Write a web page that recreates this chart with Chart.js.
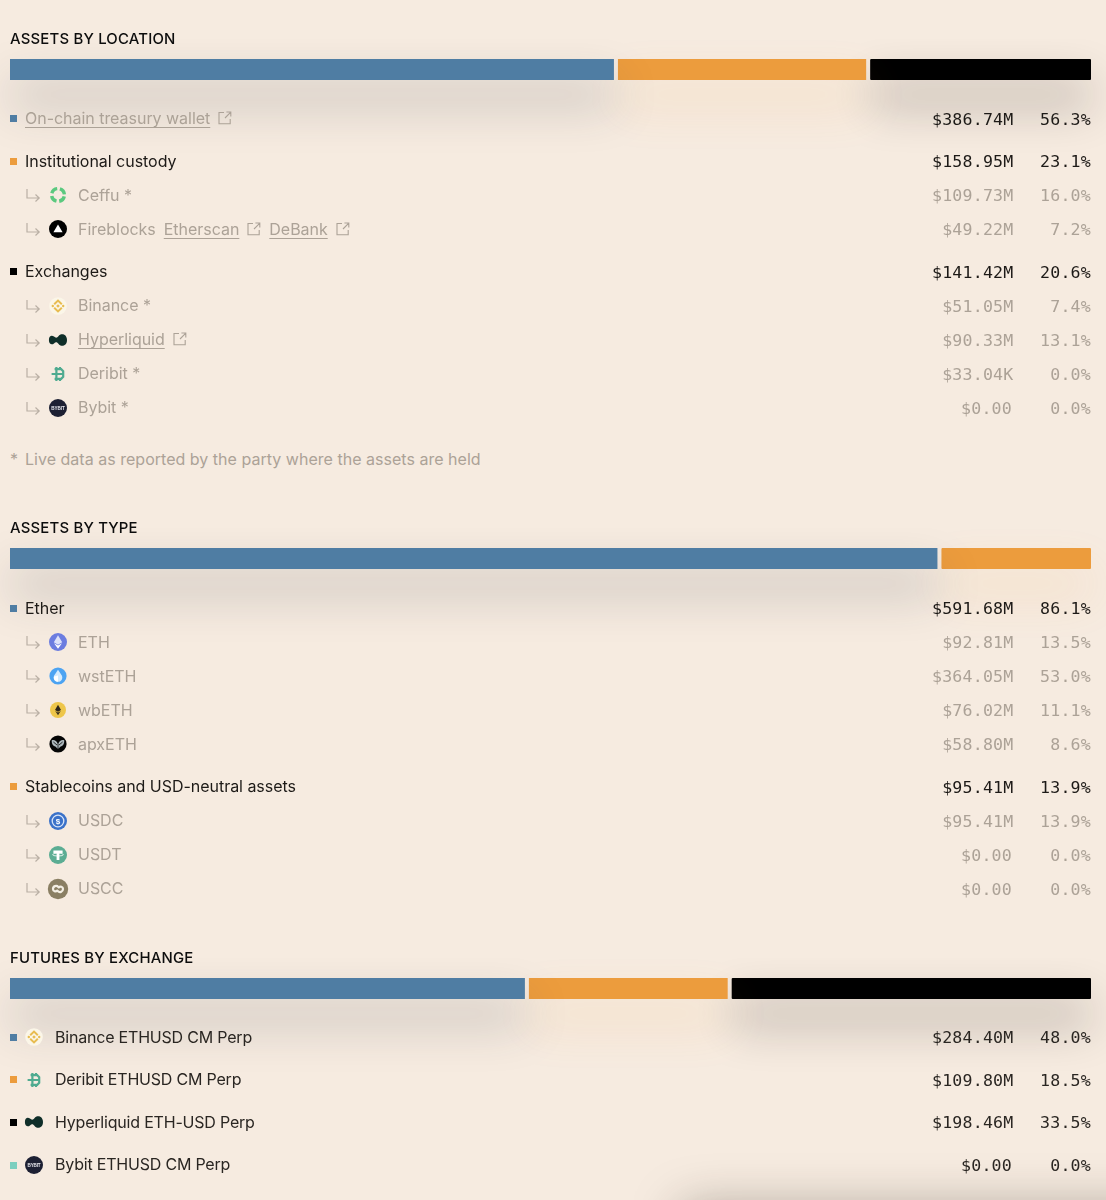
<!DOCTYPE html>
<html><head><meta charset="utf-8">
<script src="https://cdn.jsdelivr.net/npm/chart.js@4"></script>
<style>
html,body{margin:0;padding:0;background:#F6EBE0;}
body{width:1106px;height:1200px;position:relative;overflow:hidden;font-family:Inter,sans-serif;}
.bgshadow{position:absolute;left:690px;top:1216px;width:500px;height:40px;box-shadow:0 0 50px 8px rgba(40,30,20,.36);}
canvas{position:absolute;left:0;}
.chartbox{position:absolute;left:0;width:1106px;height:170px;}
.sec{position:absolute;left:0;width:1106px;z-index:2;}
.title{position:absolute;left:10px;font-size:14.9px;font-weight:500;color:#0d0d0d;line-height:20px;z-index:2;letter-spacing:.2px;white-space:nowrap;}
.row{position:relative;height:34px;line-height:34px;font-size:16px;letter-spacing:-.03px;white-space:nowrap;}
.row.top{margin-top:8.5px;color:#1d1a17;}
.row.sub{color:#aca297;}
.row.fut{height:42.6px;line-height:42.6px;color:#2a2622;letter-spacing:-.2px;}
.row.link{color:#aca297;}
.sq{position:absolute;left:10px;top:50%;margin-top:-3.5px;width:7px;height:7px;}
.lab{position:absolute;left:25px;top:-.5px;}
.sub .lab{left:78px;}
.fut .lab{left:55px;}
.arrow{position:absolute;left:26px;top:50%;margin-top:-8px;}
.ic{position:absolute;left:48px;top:50%;margin-top:-10px;}
.fut .ic{left:24px;}
.amt,.pct{position:absolute;top:1px;font-family:"DejaVu Sans Mono",monospace;font-size:16.6px;letter-spacing:.2px;text-align:right;}
.amt{right:92.5px;}
.amt.plain{right:94px;}
.pct{right:15px;}
u{text-underline-offset:3px;text-decoration-thickness:1px;}
.ext{display:inline-block;vertical-align:-1px;margin:0 0 0 8px;}
.note{position:absolute;left:10px;top:449px;font-size:16px;line-height:20px;color:#aca297;z-index:2;white-space:nowrap;letter-spacing:.02px;}
.note span{position:absolute;left:15px;top:0;}
</style></head>
<body>
<div class="bgshadow"></div>
<script>
// ---------- data ----------
const locationSegments = ["On-chain treasury wallet", "Institutional custody", "Exchanges"];
const locationValues = [386.74, 158.95, 141.42];
const typeSegments = ["Ether", "Stablecoins and USD-neutral assets"];
const typeValues = [591.68, 95.41];
const futuresSegments = ["Binance ETHUSD CM Perp", "Deribit ETHUSD CM Perp", "Hyperliquid ETH-USD Perp", "Bybit ETHUSD CM Perp"];
const futuresValues = [284.40, 109.80, 198.46, 0];

const locationNames = ["On-chain treasury wallet", "Institutional custody", "Ceffu *", "Fireblocks", "Exchanges", "Binance *", "Hyperliquid", "Deribit *", "Bybit *"];
const locationAmounts = ["$386.74M", "$158.95M", "$109.73M", "$49.22M", "$141.42M", "$51.05M", "$90.33M", "$33.04K", "$0.00"];
const locationShares = ["56.3%", "23.1%", "16.0%", "7.2%", "20.6%", "7.4%", "13.1%", "0.0%", "0.0%"];

const typeNames = ["Ether", "ETH", "wstETH", "wbETH", "apxETH", "Stablecoins and USD-neutral assets", "USDC", "USDT", "USCC"];
const typeAmounts = ["$591.68M", "$92.81M", "$364.05M", "$76.02M", "$58.80M", "$95.41M", "$95.41M", "$0.00", "$0.00"];
const typeShares = ["86.1%", "13.5%", "53.0%", "11.1%", "8.6%", "13.9%", "13.9%", "0.0%", "0.0%"];

const futuresAmounts = ["$284.40M", "$109.80M", "$198.46M", "$0.00"];
const futuresShares = ["48.0%", "18.5%", "33.5%", "0.0%"];

const sectionTitles = ["ASSETS BY LOCATION", "ASSETS BY TYPE", "FUTURES BY EXCHANGE"];
const footnoteMark = "*";
const footnote = "Live data as reported by the party where the assets are held";

// ---------- styles ----------
const BLUE = "#4F7DA3", ORANGE = "#EC9C3D", BLACK = "#000000", TEAL = "#7CCFBF";
const COLORS = [BLUE, ORANGE, BLACK, TEAL];
const SHADOWS = ["rgba(45,55,65,.26)", "rgba(236,156,61,.17)", "rgba(25,20,15,.3)", "rgba(0,0,0,0)"];

const shadowPlugin = {
  id: "softShadow",
  beforeDatasetDraw(chart, args) {
    const ds = chart.data.datasets[args.index], ctx = chart.ctx;
    ctx.save();
    if (ds.softShadow) { ctx.shadowColor = ds.softShadow; ctx.shadowBlur = 46; ctx.shadowOffsetY = 25; }
  },
  afterDatasetDraw(chart) { chart.ctx.restore(); }
};

function makeBar(top, labels, values) {
  const box = document.createElement("div");
  box.className = "chartbox";
  box.style.top = top + "px";
  const cv = document.createElement("canvas");
  box.appendChild(cv);
  document.body.appendChild(box);
  const total = values.reduce((a, b) => a + b, 0);
  const shown = values.map((v, i) => ({ v, i })).filter(o => o.v > 0);
  const widthPx = 1081, gapPx = 4;
  const gapVal = gapPx * total / (widthPx - gapPx * (shown.length - 1));
  const datasets = [];
  shown.forEach((o, k) => {
    datasets.push({ label: labels[o.i], data: [o.v], backgroundColor: COLORS[o.i], softShadow: SHADOWS[o.i], clip: false, inflateAmount: 0, borderWidth: 0, borderRadius: 1, borderSkipped: false, stack: "s", barPercentage: 1, categoryPercentage: 1 });
    if (k < shown.length - 1) datasets.push({ label: "gap", data: [gapVal], backgroundColor: "rgba(0,0,0,0)", inflateAmount: 0, borderWidth: 0, stack: "s", barPercentage: 1, categoryPercentage: 1 });
  });
  new Chart(cv, {
    type: "bar",
    data: { labels: ["share"], datasets },
    plugins: [shadowPlugin],
    options: {
      indexAxis: "y", responsive: true, maintainAspectRatio: false, animation: false,
      layout: { padding: { left: 10, right: 15, top: 20, bottom: 129 } },
      plugins: { legend: { display: false }, tooltip: { enabled: false } },
      scales: {
        x: { display: false, stacked: true, min: 0, max: total + gapVal * (shown.length - 1) },
        y: { display: false, stacked: true }
      }
    }
  });
}

// ---------- small glyphs ----------
const arrowSvg = '<svg class="arrow" width="15" height="16" viewBox="0 0 15 16" fill="none" stroke="#b9afa4" stroke-width="1.2"><path d="M1 2v9h12M9.5 7.5 13.2 11 9.5 14.5"/></svg>';
const extSvg = '<svg class="ext" width="14" height="14" viewBox="0 0 14 14" fill="none" stroke="#aca297" stroke-width="1.1"><path d="M6 1.5H1v11.2h11.2V8M7 7 12.8 1.2M8.4 1h4.4v4.4"/></svg>';
function ic(body) { return '<svg class="ic" width="20" height="20" viewBox="0 0 20 20" style="overflow:visible">' + body + "</svg>"; }
const ICONS = {
  ceffu: ic('<circle cx="10" cy="10" r="6.4" fill="none" stroke="#5BC97F" stroke-width="3.4" stroke-dasharray="7.2 2.8" transform="rotate(12 10 10)"/>'),
  fireblocks: ic('<circle cx="10" cy="10" r="9" fill="#000"/><path d="M10 5.6 14.6 13.2H5.4Z" fill="#fff"/>'),
  binance: ic('<circle cx="10" cy="10" r="8.8" fill="#FBF6E8"/><g fill="none" stroke="#E8BC50" stroke-width="2"><path d="M6.2 8.2 10 4.6 13.8 8.2"/><path d="M6.2 11.8 10 15.4 13.8 11.8"/></g><path d="M10 8.2 11.8 10 10 11.8 8.2 10Z" fill="#E8BC50"/><circle cx="4.8" cy="10" r="1.2" fill="#E8BC50"/><circle cx="15.2" cy="10" r="1.2" fill="#E8BC50"/>'),
  hyper: ic('<path d="M.9 10C.9 5.5 4 4.8 6 6.6 7.6 8 9 8.2 10.6 6 12.4 3 19 3.4 19 10 19 16.6 12.4 17 10.6 14 9 11.8 7.6 12 6 13.4 4 15.2.9 14.5.9 10Z" fill="#0F2E29"/>'),
  deribit: ic('<g fill="none" stroke="#4FAB90" stroke-width="2.2"><path d="M6.6 5.2H13.2L15.2 7.2V12.8L13.2 14.8H6.6"/><path d="M3.6 10H15M8.4 3V17M12 3V6M12 14V17"/></g>'),
  bybit: ic('<circle cx="10" cy="10" r="9" fill="#1D2033"/><text x="10" y="11.7" text-anchor="middle" font-family="Liberation Sans" font-weight="700" font-size="4.6" fill="#E8E8EE">BYBIT</text>'),
  eth: ic('<circle cx="10" cy="10" r="9" fill="#6C7DE0"/><path d="M10 3.2 14.2 10.2 10 12.7 5.8 10.2Z" fill="#DDE2FA"/><path d="M10 13.6 14 11.2 10 16.8 6 11.2Z" fill="#fff"/>'),
  wsteth: ic('<circle cx="10" cy="10" r="8.6" fill="#4CA3F2"/><path d="M10 3.8 13.8 9.4C15.4 13 12.8 15.8 10 15.8 7.2 15.8 4.6 13 6.2 9.4Z" fill="#D5EBFD"/><path d="M10 9.6V15.8C7.2 15.8 5.2 13.4 6 10.6Z" fill="#fff"/>'),
  wbeth: ic('<circle cx="10" cy="10" r="8" fill="#EEC64A"/><path d="M10 4.8 13 10 10 11.8 7 10Z" fill="#2b2418"/><path d="M10 12.6 12.8 10.9 10 15.2 7.2 10.9Z" fill="#3b3220"/>'),
  apxeth: ic('<circle cx="10" cy="10" r="8.6" fill="#050505"/><path d="M3.8 6.2C6 5.4 8.8 6.6 9.6 9.4H10.4C11.2 6.6 14 5.4 16.2 6.2 16.6 9.4 15 12 12.6 12.4L10 15 7.4 12.4C5 12 3.4 9.4 3.8 6.2Z" fill="#AEB9BE"/><path d="M10 9.4V15M5.4 8 9 11M14.6 8 11 11" stroke="#050505" stroke-width=".8"/>'),
  usdc: ic('<circle cx="10" cy="10" r="9" fill="#3B72C9"/><circle cx="10" cy="10" r="5.8" fill="none" stroke="#D9E5F8" stroke-width="1.3"/><text x="10" y="13" text-anchor="middle" font-family="Liberation Sans" font-weight="700" font-size="8" fill="#fff">$</text>'),
  usdt: ic('<circle cx="10" cy="10" r="9" fill="#5BAD93"/><path d="M5.4 5.6H14.6V8H11.4V15H8.6V8H5.4Z" fill="#fff"/><ellipse cx="10" cy="9.6" rx="5.4" ry="1.4" fill="none" stroke="#fff" stroke-width=".8"/>'),
  uscc: ic('<circle cx="10" cy="10" r="10.2" fill="#8A7F63"/><g fill="none" stroke="#F3EEE3" stroke-width="2.2" stroke-linecap="round"><path d="M10.4 8C8.4 6 5 7 5 10 5 12.4 7.8 13 9.2 11.6"/><path d="M9.6 12C11.6 14 15 13 15 10 15 7.6 12.2 7 10.8 8.4"/></g>')
};

// ---------- rows ----------
function rowHtml(cls, square, arrow, icon, labelHtml, amount, share, numColor) {
  const st = numColor ? ' style="color:' + numColor + '"' : "";
  const plain = /[MK]$/.test(amount) ? "" : " plain";
  return '<div class="row ' + cls + '">' +
    (square ? '<span class="sq" style="background:' + square + '"></span>' : "") +
    (arrow ? arrowSvg : "") + (icon || "") +
    '<span class="lab">' + labelHtml + "</span>" +
    '<span class="amt' + plain + '"' + st + ">" + amount + '</span><span class="pct"' + st + ">" + share + "</span></div>";
}
function addSection(top, html) {
  const d = document.createElement("div");
  d.className = "sec"; d.style.top = top + "px"; d.innerHTML = html;
  document.body.appendChild(d);
}
function addTitle(top, text) {
  const d = document.createElement("div");
  d.className = "title"; d.style.top = top + "px"; d.textContent = text;
  document.body.appendChild(d);
}
const linked = s => "<u>" + s + "</u>" + extSvg;

makeBar(39, locationSegments, locationValues);
makeBar(528, typeSegments, typeValues);
makeBar(958, futuresSegments, futuresValues);

addTitle(29, sectionTitles[0]);
addTitle(518, sectionTitles[1]);
addTitle(948, sectionTitles[2]);

let L = "";
L += rowHtml("top link", BLUE, false, "", linked(locationNames[0]), locationAmounts[0], locationShares[0], "#1d1a17");
L += rowHtml("top", ORANGE, false, "", locationNames[1], locationAmounts[1], locationShares[1]);
L += rowHtml("sub", null, true, ICONS.ceffu, locationNames[2], locationAmounts[2], locationShares[2]);
L += rowHtml("sub", null, true, ICONS.fireblocks, locationNames[3] + '<span style="margin-left:8px"></span>' + linked("Etherscan") + '<span style="margin-left:8px"></span>' + linked("DeBank"), locationAmounts[3], locationShares[3]);
L += rowHtml("top", BLACK, false, "", locationNames[4], locationAmounts[4], locationShares[4]);
L += rowHtml("sub", null, true, ICONS.binance, locationNames[5], locationAmounts[5], locationShares[5]);
L += rowHtml("sub", null, true, ICONS.hyper, linked(locationNames[6]), locationAmounts[6], locationShares[6]);
L += rowHtml("sub", null, true, ICONS.deribit, locationNames[7], locationAmounts[7], locationShares[7]);
L += rowHtml("sub", null, true, ICONS.bybit, locationNames[8], locationAmounts[8], locationShares[8]);
addSection(93, L);

const note = document.createElement("div");
note.className = "note";
note.textContent = footnoteMark;
const noteText = document.createElement("span");
noteText.textContent = footnote;
note.appendChild(noteText);
document.body.appendChild(note);

const typeIcons = [null, ICONS.eth, ICONS.wsteth, ICONS.wbeth, ICONS.apxeth, null, ICONS.usdc, ICONS.usdt, ICONS.uscc];
let T = "";
typeNames.forEach((n, i) => {
  if (i === 0 || i === 5) T += rowHtml("top", i === 0 ? BLUE : ORANGE, false, "", n, typeAmounts[i], typeShares[i]);
  else T += rowHtml("sub", null, true, typeIcons[i], n, typeAmounts[i], typeShares[i]);
});
addSection(582.5, T);

const futIcons = [ICONS.binance, ICONS.deribit, ICONS.hyper, ICONS.bybit];
let F = "";
futuresSegments.forEach((n, i) => { F += rowHtml("fut", COLORS[i], false, futIcons[i], n, futuresAmounts[i], futuresShares[i]); });
addSection(1016, F);
</script>
</body></html>
